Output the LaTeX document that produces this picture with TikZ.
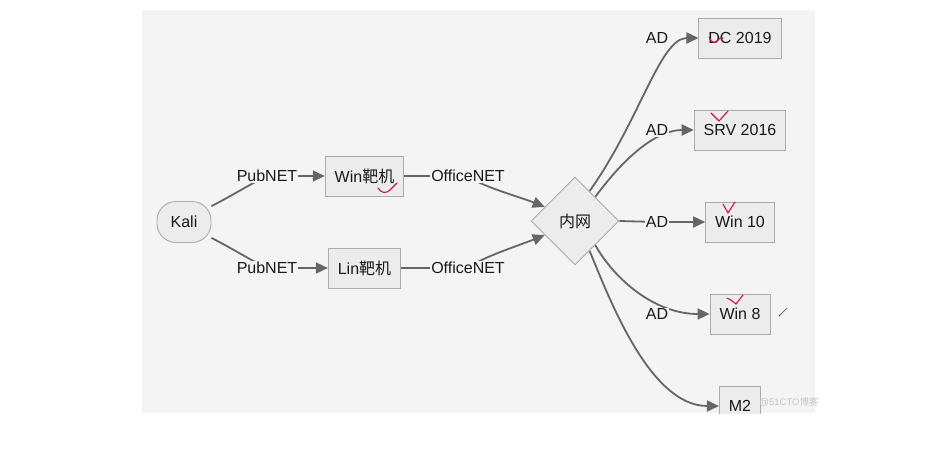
\documentclass[tikz,border=0pt]{standalone}
\usepackage{fontspec}
\setmainfont{Liberation Sans}
\newfontfamily\cjk{Noto Sans CJK SC}
\usetikzlibrary{shapes.geometric,arrows.meta}
\pgfdeclarelayer{bglayer}
\pgfdeclarelayer{edgelayer}
\pgfsetlayers{bglayer,edgelayer,main}
\definecolor{bgc}{HTML}{F4F4F4}
\definecolor{boxfill}{HTML}{ECECEC}
\definecolor{boxline}{HTML}{ABABAB}
\definecolor{edgec}{HTML}{666666}
\definecolor{tickred}{HTML}{CC1040}
\begin{document}
\begin{tikzpicture}[x=1pt,y=-1pt,
  every node/.style={font=\fontsize{16}{19}\selectfont, text=black!90},
  box/.style={draw=boxline, fill=boxfill, line width=0.9pt, minimum height=40pt, inner xsep=9.5pt, inner ysep=0pt},
  kalibox/.style={box, rounded corners=19pt, minimum width=54pt, minimum height=41pt},
  gate/.style={diamond, draw=boxline, fill=boxfill, line width=0.9pt, minimum width=88pt, minimum height=88pt, inner sep=0pt},
  elabel/.style={fill=bgc, inner sep=1pt},
  edge/.style={draw=edgec, line width=1.8pt},
  arr/.style={edge, -{Triangle[length=12pt,width=11pt]}},
  tick/.style={draw=tickred, line width=1.1pt, line cap=round, line join=round}
]
\useasboundingbox (0,0) rectangle (936,448);
\begin{pgfonlayer}{bglayer}
  \fill[white] (0,0) rectangle (936,448);
  \fill[bgc] (142,10) rectangle (815,413);
\end{pgfonlayer}

% nodes
\node[kalibox] (kali) at (184,222) {Kali};
\node[box] (win) at (364.5,176) {Win{\cjk 靶机}};
\node[box] (lin) at (364.5,268) {Lin{\cjk 靶机}};
\node[gate] (dia) at (575,221) {\cjk 内网};
\node[box] (dc) at (740,38) {DC 2019};
\node[box] (srv) at (740,130) {SRV 2016};
\node[box] (w10) at (740,222) {Win 10};
\node[box] (w8) at (740,314) {Win 8};
\node[box] (m2) at (740,406) {M2};

% edge labels
\node[elabel] (pub1) at (267,176) {PubNET};
\node[elabel] (pub2) at (267,268) {PubNET};
\node[elabel] (off1) at (468,176) {OfficeNET};
\node[elabel] (off2) at (468,268) {OfficeNET};
\node[elabel] (ad1) at (657,38) {AD};
\node[elabel] (ad2) at (657,130) {AD};
\node[elabel] (ad3) at (657,222) {AD};
\node[elabel] (ad4) at (657,314) {AD};

% connectors
\begin{pgfonlayer}{edgelayer}
  \draw[arr] (kali.30) .. controls (235,194) and (252,183) .. (pub1.center) -- (win.west);
  \draw[arr] (kali.-30) .. controls (235,250) and (252,261) .. (pub2.center) -- (lin.west);
  \draw[arr] (win.east) -- (off1.center) .. controls (480,186) and (520,197) .. (dia.155);
  \draw[arr] (lin.east) -- (off2.center) .. controls (480,258) and (520,245) .. (dia.205);
  \draw[arr] (dia.64) .. controls (640,120) and (660,38) .. (dc.west);
  \draw[arr] (dia.50) .. controls (630,150) and (660,130) .. (srv.west);
  \draw[arr] (dia.east) -- (ad3.center) -- (w10.west);
  \draw[arr] (dia.-50) .. controls (615,280) and (655,314) .. (w8.west);
  \draw[arr] (dia.-64) .. controls (610,300) and (650,406) .. (m2.west);
\end{pgfonlayer}

% clip of the canvas at the bottom
\fill[white] (0,413.5) rectangle (936,448);

% handwritten check marks
\draw[tick] (378,188) .. controls (381,193) and (386,194) .. (390,190) -- (397,183);
\draw[tick] (709,37) .. controls (711,43) and (716,44) .. (718,40) .. controls (719,38) and (721,37) .. (723,38);
\draw[tick] (711,113) -- (719,121) -- (728,111);
\draw[tick] (723,204) -- (728,213) -- (735,202);
\draw[tick] (727,298) .. controls (731,300) .. (736,304) -- (743,295);
\draw[line width=0.9pt, black!55] (780,315) -- (787,308);
\fill[tickred] (779.5,315.5) circle (0.9);

% watermark
\node[font=\fontsize{9.5}{11}\selectfont, text=black!22, inner sep=0pt] (wm) at (789,402) {@51CTO{\cjk 博客}};
\end{tikzpicture}
\end{document}
